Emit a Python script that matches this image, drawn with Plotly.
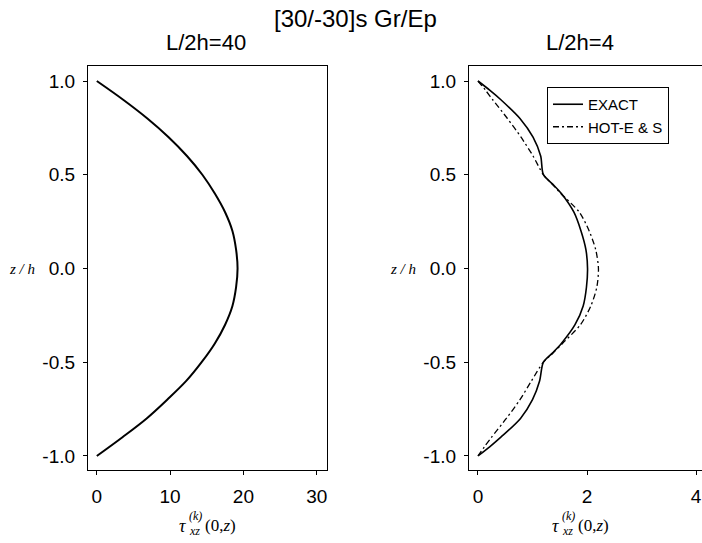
import plotly.graph_objects as go

# ---- data ----
# Left panel, L/2h=40
z40 = [1.0, 0.9, 0.8, 0.7, 0.6, 0.5, 0.4, 0.3, 0.2, 0.1, 0.0,
       -0.1, -0.2, -0.3, -0.4, -0.5, -0.6, -0.7, -0.8, -0.9, -1.0]
tau40 = [0.0, 3.6, 6.9, 9.8, 12.3, 14.4, 16.1, 17.5, 18.5, 19.0, 19.2,
         19.0, 18.5, 17.5, 16.1, 14.3, 12.2, 9.6, 6.8, 3.5, 0.0]

# Right panel, L/2h=4
z4 = [1.0, 0.95, 0.9, 0.8, 0.7, 0.6, 0.5, 0.45, 0.4, 0.3, 0.2, 0.1, 0.0,
      -0.1, -0.2, -0.3, -0.4, -0.45, -0.5, -0.6, -0.7, -0.8, -0.9, -0.95, -1.0]
exact4 = [0.0, 0.22, 0.42, 0.77, 1.01, 1.15, 1.20, 1.37, 1.53, 1.76, 1.89, 1.98, 2.01,
          1.99, 1.93, 1.78, 1.53, 1.37, 1.20, 1.13, 1.00, 0.78, 0.42, 0.22, 0.0]
hot4 = [0.0, 0.14, 0.27, 0.54, 0.79, 1.01, 1.20, 1.36, 1.52, 1.86, 2.04, 2.16, 2.21,
        2.18, 2.07, 1.88, 1.55, 1.38, 1.20, 0.98, 0.77, 0.52, 0.25, 0.12, 0.0]

yticks = [-1.0, -0.5, 0.0, 0.5, 1.0]
ytick_labels = ["-1.0", "-0.5", "0.0", "0.5", "1.0"]
xticks40 = [0, 10, 20, 30]
xticks4 = [0, 2, 4]

W, H = 702, 543
def px(x):
    return x / W
def py(y):
    return 1 - y / H

fig = go.Figure()

fig.add_trace(go.Scatter(x=tau40, y=z40, mode="lines", xaxis="x", yaxis="y",
                         line=dict(color="black", width=2, shape="spline", smoothing=1),
                         showlegend=False))

fig.add_trace(go.Scatter(x=exact4, y=z4, mode="lines", xaxis="x2", yaxis="y2",
                         name="EXACT",
                         line=dict(color="black", width=1.6, shape="spline", smoothing=0.8)))
fig.add_trace(go.Scatter(x=hot4, y=z4, mode="lines", xaxis="x2", yaxis="y2",
                         name="HOT-E & S",
                         line=dict(color="black", width=1.3, dash="6px,3px,2px,3px",
                                   shape="spline", smoothing=0.8)))

sans = "Liberation Sans, Arial, sans-serif"
serif = "Liberation Serif, Times New Roman, serif"
tickfont = dict(family=sans, size=19, color="black")
common_ax = dict(showline=True, linecolor="black", linewidth=1.2, mirror=True,
                 ticks="outside", ticklen=4, tickcolor="black", showgrid=False,
                 zeroline=False, tickfont=tickfont, ticklabeloverflow="allow")

fig.update_layout(
    width=W, height=H,
    margin=dict(l=0, r=0, t=0, b=0),
    paper_bgcolor="white", plot_bgcolor="white",
    xaxis=dict(domain=[px(88), px(327)], range=[-1.2, 31.4], tickvals=xticks40,
               anchor="y", ticklabelstandoff=5, **common_ax),
    yaxis=dict(domain=[py(470), py(66)], range=[-1.075, 1.08], tickvals=yticks,
               ticktext=ytick_labels, anchor="x", ticklabelstandoff=4, **common_ax),
    xaxis2=dict(domain=[px(469), 1.0], range=[-0.165, 4.11], tickvals=xticks4,
                anchor="y2", ticklabelstandoff=5, **common_ax),
    yaxis2=dict(domain=[py(470), py(66)], range=[-1.075, 1.08], tickvals=yticks,
                ticktext=ytick_labels, anchor="x2", ticklabelstandoff=4, **common_ax),
    legend=dict(x=px(547), y=py(87), xanchor="left", yanchor="top",
                bordercolor="black", borderwidth=1, bgcolor="white",
                font=dict(family=sans, size=15, color="black"),
                itemwidth=30, tracegroupgap=0),
)

ann = []
ann.append(dict(text="[30/-30]s Gr/Ep", x=px(355), y=py(18), font=dict(family=sans, size=24)))
ann.append(dict(text="L/2h=40", x=px(206), y=py(42), font=dict(family=sans, size=22)))
ann.append(dict(text="L/2h=4", x=px(580), y=py(42), font=dict(family=sans, size=22)))
for cx in (22, 403):
    ann.append(dict(text="<i>z / h</i>", x=px(cx), y=py(269), font=dict(family=serif, size=15)))
# x-axis titles: tau with stacked super/subscripts
for x0 in (177, 550):
    ann.append(dict(text="<i>τ</i>", x=px(x0), y=py(526), xanchor="left", font=dict(family=serif, size=18)))
    ann.append(dict(text="<i>(k)</i>", x=px(x0 + 10), y=py(516), xanchor="left", font=dict(family=serif, size=12)))
    ann.append(dict(text="<i>xz</i>", x=px(x0 + 10), y=py(531), xanchor="left", font=dict(family=serif, size=12)))
    ann.append(dict(text="(0,<i>z</i>)", x=px(x0 + 26), y=py(525), xanchor="left", font=dict(family=serif, size=17)))

for a in ann:
    a.setdefault("xanchor", "center")
    a.update(xref="paper", yref="paper", yanchor="middle", showarrow=False)
    a["font"]["color"] = "black"
fig.update_layout(annotations=ann)

fig.write_html("out.html", config={"displayModeBar": False},
               post_script="document.body.style.margin='0';document.body.style.overflow='hidden';")
